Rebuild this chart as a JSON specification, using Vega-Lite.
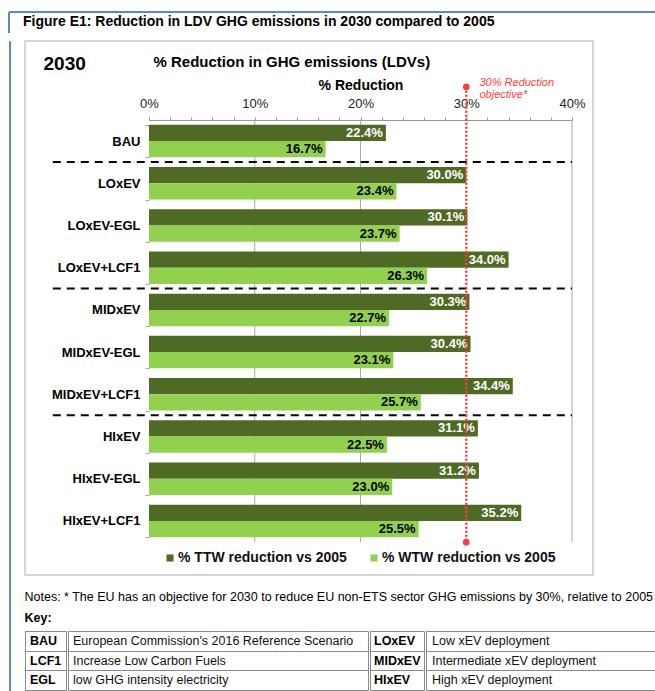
{
  "$schema": "https://vega.github.io/schema/vega-lite/v6.json",
  "padding": {"left": 8, "top": 11, "right": 0, "bottom": 0},
  "background": "white",
  "config": {
    "font": "Liberation Sans",
    "view": {"stroke": null},
    "legend": {"labelFont": "Liberation Sans"},
    "axis": {"labelFont": "Liberation Sans", "titleFont": "Liberation Sans"}
  },
  "datasets": {
    "bars": [
      {"scenario": "BAU", "series": "% TTW reduction vs 2005", "value": 0.224},
      {"scenario": "BAU", "series": "% WTW reduction vs 2005", "value": 0.167},
      {"scenario": "LOxEV", "series": "% TTW reduction vs 2005", "value": 0.300},
      {"scenario": "LOxEV", "series": "% WTW reduction vs 2005", "value": 0.234},
      {"scenario": "LOxEV-EGL", "series": "% TTW reduction vs 2005", "value": 0.301},
      {"scenario": "LOxEV-EGL", "series": "% WTW reduction vs 2005", "value": 0.237},
      {"scenario": "LOxEV+LCF1", "series": "% TTW reduction vs 2005", "value": 0.340},
      {"scenario": "LOxEV+LCF1", "series": "% WTW reduction vs 2005", "value": 0.263},
      {"scenario": "MIDxEV", "series": "% TTW reduction vs 2005", "value": 0.303},
      {"scenario": "MIDxEV", "series": "% WTW reduction vs 2005", "value": 0.227},
      {"scenario": "MIDxEV-EGL", "series": "% TTW reduction vs 2005", "value": 0.304},
      {"scenario": "MIDxEV-EGL", "series": "% WTW reduction vs 2005", "value": 0.231},
      {"scenario": "MIDxEV+LCF1", "series": "% TTW reduction vs 2005", "value": 0.344},
      {"scenario": "MIDxEV+LCF1", "series": "% WTW reduction vs 2005", "value": 0.257},
      {"scenario": "HIxEV", "series": "% TTW reduction vs 2005", "value": 0.311},
      {"scenario": "HIxEV", "series": "% WTW reduction vs 2005", "value": 0.225},
      {"scenario": "HIxEV-EGL", "series": "% TTW reduction vs 2005", "value": 0.312},
      {"scenario": "HIxEV-EGL", "series": "% WTW reduction vs 2005", "value": 0.230},
      {"scenario": "HIxEV+LCF1", "series": "% TTW reduction vs 2005", "value": 0.352},
      {"scenario": "HIxEV+LCF1", "series": "% WTW reduction vs 2005", "value": 0.255}
    ],
    "keyL": [
      {"k": "BAU", "d": "European Commission's 2016 Reference Scenario"},
      {"k": "LCF1", "d": "Increase Low Carbon Fuels"},
      {"k": "EGL", "d": "low GHG intensity electricity"}
    ],
    "keyR": [
      {"k": "LOxEV", "d": "Low xEV deployment"},
      {"k": "MIDxEV", "d": "Intermediate xEV deployment"},
      {"k": "HIxEV", "d": "High xEV deployment"}
    ]
  },
  "spacing": 0,
  "vconcat": [
    {
      "width": 647, "height": 21,
      "view": {"stroke": "#5b87c7", "strokeWidth": 2, "strokeDash": [647, 668, 21, 0]},
      "title": {
        "text": "Figure E1: Reduction in LDV GHG emissions in 2030 compared to 2005",
        "anchor": "start",
        "orient": "top",
        "offset": -17,
        "dx": 14,
        "fontSize": 14,
        "fontWeight": "bold",
        "color": "#000000"
      },
      "data": {"values": []},
      "mark": {"type": "point", "opacity": 0}
    },
    {
      "spacing": 13,
      "hconcat": [
        {
          "width": 1, "height": 700,
          "view": {"stroke": "#5b87c7", "strokeWidth": 1},
          "data": {"values": []},
          "mark": {"type": "point", "opacity": 0}
        },
        {
          "spacing": 14,
          "vconcat": [
            {
              "width": 568,
              "height": 534,
              "view": {"stroke": "#c8c8c8", "strokeWidth": 1.5},
              "resolve": {"axis": {"x": "independent", "y": "independent"}},
              "layer": [
                {
                  "data": {"values": [{"t": 0.1}, {"t": 0.2}, {"t": 0.4}]},
                  "mark": {"type": "rule", "color": "#a8a8a8", "strokeWidth": 1, "yOffset": -5, "y2Offset": 5},
                  "encoding": {
                    "x": {"field": "t", "type": "quantitative", "scale": {"domain": [0, 0.4], "range": [124, 547], "nice": false, "zero": false}, "axis": null},
                    "y": {"datum": "BAU", "type": "nominal", "bandPosition": 0, "scale": {"domain": ["BAU","LOxEV","LOxEV-EGL","LOxEV+LCF1","MIDxEV","MIDxEV-EGL","MIDxEV+LCF1","HIxEV","HIxEV-EGL","HIxEV+LCF1"], "range": [79, 501], "paddingInner": 0.23, "paddingOuter": 0.115}, "axis": null},
                    "y2": {"datum": "HIxEV+LCF1", "bandPosition": 1}
                  }
                },
                {
                  "data": {"name": "bars"},
                  "mark": {"type": "bar"},
                  "encoding": {
                    "y": {
                      "field": "scenario", "type": "nominal",
                      "scale": {"domain": ["BAU","LOxEV","LOxEV-EGL","LOxEV+LCF1","MIDxEV","MIDxEV-EGL","MIDxEV+LCF1","HIxEV","HIxEV-EGL","HIxEV+LCF1"], "range": [79, 501], "paddingInner": 0.23, "paddingOuter": 0.115},
                      "axis": {
                        "orient": "left", "offset": -124,
                        "title": "2030", "titleAngle": 0, "titleAlign": "left", "titleBaseline": "middle",
                        "titleX": -106, "titleY": 22, "titleFontSize": 19, "titleFontWeight": "bold", "titleColor": "#000000",
                        "labelFontSize": 13, "labelFontWeight": "bold", "labelColor": "#000000", "labelPadding": 5, "labelLimit": 200,
                        "tickBand": "extent", "tickSize": 4, "tickColor": "#9aa5b5", "domain": false, "grid": false
                      }
                    },
                    "yOffset": {"field": "series", "sort": ["% TTW reduction vs 2005", "% WTW reduction vs 2005"], "scale": {"paddingInner": 0}},
                    "x": {
                      "field": "value", "type": "quantitative",
                      "scale": {"domain": [0, 0.4], "range": [124, 547], "nice": false, "zero": false},
                      "axis": {
                        "orient": "top", "offset": -79,
                        "values": [0,0.02,0.04,0.06,0.08,0.1,0.12,0.14,0.16,0.18,0.2,0.22,0.24,0.26,0.28,0.3,0.32,0.34,0.36,0.38,0.4],
                        "format": ".0%",
                        "labelExpr": "round(datum.value*100) % 10 === 0 ? datum.label : ''",
                        "labelFontSize": 13, "labelColor": "#222222", "labelPadding": 7, "labelFlush": false, "labelOverlap": false,
                        "tickSize": 3, "tickColor": "#999999", "domainColor": "#999999", "grid": false,
                        "title": "% Reduction", "titleFontSize": 14, "titleFontWeight": "bold", "titleColor": "#000000", "titlePadding": 5
                      }
                    },
                    "color": {
                      "field": "series", "type": "nominal",
                      "scale": {"domain": ["% TTW reduction vs 2005", "% WTW reduction vs 2005"], "range": ["#4f6a24", "#92d050"]},
                      "legend": {
                        "orient": "none", "legendX": 154, "legendY": 539, "direction": "horizontal", "title": null,
                        "symbolType": "square", "symbolSize": 50, "symbolStrokeWidth": 0,
                        "labelFontSize": 14, "labelFontWeight": "bold", "labelColor": "#111111", "labelLimit": 400,
                        "columnPadding": 20, "labelOffset": 1
                      }
                    }
                  }
                },
                {
                  "data": {"name": "bars"},
                  "mark": {"type": "text", "align": "right", "dx": -3, "baseline": "middle", "fontSize": 13, "fontWeight": "bold"},
                  "encoding": {
                    "y": {
                      "field": "scenario", "type": "nominal",
                      "scale": {"domain": ["BAU","LOxEV","LOxEV-EGL","LOxEV+LCF1","MIDxEV","MIDxEV-EGL","MIDxEV+LCF1","HIxEV","HIxEV-EGL","HIxEV+LCF1"], "range": [79, 501], "paddingInner": 0.23, "paddingOuter": 0.115},
                      "axis": {
                        "orient": "right", "labels": false, "ticks": false, "domain": false, "grid": false,
                        "title": "% Reduction in GHG emissions (LDVs)", "titleAngle": 0, "titleAlign": "left", "titleBaseline": "middle",
                        "titleX": -440, "titleY": 20, "titleFontSize": 15, "titleFontWeight": "bold", "titleColor": "#000000"
                      }
                    },
                    "yOffset": {"field": "series", "sort": ["% TTW reduction vs 2005", "% WTW reduction vs 2005"], "scale": {"paddingInner": 0}},
                    "x": {"field": "value", "type": "quantitative", "scale": {"domain": [0, 0.4], "range": [124, 547], "nice": false, "zero": false}, "axis": null},
                    "text": {"field": "value", "type": "quantitative", "format": ".1%"},
                    "color": {"condition": {"test": "datum.series === '% TTW reduction vs 2005'", "value": "#ffffff"}, "value": "#000000"}
                  }
                },
                {
                  "data": {"values": [{"after": "BAU"}, {"after": "LOxEV+LCF1"}, {"after": "MIDxEV+LCF1"}]},
                  "mark": {"type": "rule", "color": "#000000", "strokeWidth": 2, "strokeDash": [8, 6], "yOffset": 4.6},
                  "encoding": {
                    "y": {"field": "after", "type": "nominal", "bandPosition": 1, "scale": {"domain": ["BAU","LOxEV","LOxEV-EGL","LOxEV+LCF1","MIDxEV","MIDxEV-EGL","MIDxEV+LCF1","HIxEV","HIxEV-EGL","HIxEV+LCF1"], "range": [79, 501], "paddingInner": 0.23, "paddingOuter": 0.115}, "axis": null},
                    "x": {"datum": -0.091, "type": "quantitative", "scale": {"domain": [0, 0.4], "range": [124, 547], "nice": false, "zero": false}, "axis": null},
                    "x2": {"datum": 0.4}
                  }
                },
                {
                  "data": {"values": [{}]},
                  "mark": {"type": "rule", "color": "#ff3d3d", "strokeWidth": 2.5, "strokeDash": [2, 2], "yOffset": -38, "y2Offset": 5},
                  "encoding": {
                    "x": {
                      "datum": 0.3, "type": "quantitative",
                      "scale": {"domain": [0, 0.4], "range": [124, 547], "nice": false, "zero": false},
                      "axis": {
                        "orient": "bottom", "labels": false, "ticks": false, "domain": false, "grid": false,
                        "title": ["30% Reduction", "objective*"], "titleColor": "#ff3d3d", "titleFontStyle": "italic", "titleFontWeight": "normal",
                        "titleFontSize": 11, "titleAlign": "left", "titleBaseline": "top", "titleLineHeight": 12,
                        "titleX": 454, "titleY": -499, "titleAngle": 0
                      }
                    },
                    "y": {"datum": "BAU", "type": "nominal", "bandPosition": 0, "scale": {"domain": ["BAU","LOxEV","LOxEV-EGL","LOxEV+LCF1","MIDxEV","MIDxEV-EGL","MIDxEV+LCF1","HIxEV","HIxEV-EGL","HIxEV+LCF1"], "range": [79, 501], "paddingInner": 0.23, "paddingOuter": 0.115}, "axis": null},
                    "y2": {"datum": "HIxEV+LCF1", "bandPosition": 1}
                  }
                },
                {
                  "data": {"values": [{}]},
                  "mark": {"type": "point", "filled": true, "color": "#ff3d3d", "opacity": 1, "size": 45, "yOffset": -38},
                  "encoding": {
                    "x": {"datum": 0.3, "type": "quantitative", "scale": {"domain": [0, 0.4], "range": [124, 547], "nice": false, "zero": false}, "axis": null},
                    "y": {"datum": "BAU", "type": "nominal", "bandPosition": 0, "scale": {"domain": ["BAU","LOxEV","LOxEV-EGL","LOxEV+LCF1","MIDxEV","MIDxEV-EGL","MIDxEV+LCF1","HIxEV","HIxEV-EGL","HIxEV+LCF1"], "range": [79, 501], "paddingInner": 0.23, "paddingOuter": 0.115}, "axis": null}
                  }
                },
                {
                  "data": {"values": [{}]},
                  "mark": {"type": "point", "filled": true, "color": "#ff3d3d", "opacity": 1, "size": 45, "yOffset": 5},
                  "encoding": {
                    "x": {"datum": 0.3, "type": "quantitative", "scale": {"domain": [0, 0.4], "range": [124, 547], "nice": false, "zero": false}, "axis": null},
                    "y": {"datum": "HIxEV+LCF1", "type": "nominal", "bandPosition": 1, "scale": {"domain": ["BAU","LOxEV","LOxEV-EGL","LOxEV+LCF1","MIDxEV","MIDxEV-EGL","MIDxEV+LCF1","HIxEV","HIxEV-EGL","HIxEV+LCF1"], "range": [79, 501], "paddingInner": 0.23, "paddingOuter": 0.115}, "axis": null}
                  }
                }
              ]
            },
            {
              "title": {
                "text": "Notes: * The EU has an objective for 2030 to reduce EU non-ETS sector GHG emissions by 30%, relative to 2005",
                "subtitle": "Key:",
                "anchor": "start",
                "fontSize": 12.5,
                "fontWeight": "normal",
                "color": "#000000",
                "subtitleFontSize": 12.5,
                "subtitleFontWeight": "bold",
                "subtitleColor": "#000000",
                "subtitlePadding": 9,
                "offset": 6
              },
              "spacing": 0,
              "hconcat": [
                {
                  "width": 41, "height": 59,
                  "view": {"stroke": "#8a8a8a"},
                  "data": {"name": "keyL"},
                  "mark": {"type": "text", "align": "left", "dx": 5, "baseline": "middle", "fontSize": 12.5, "fontWeight": "bold", "color": "#000000"},
                  "encoding": {
                    "y": {"field": "k", "type": "nominal", "sort": null, "scale": {"paddingInner": 0, "paddingOuter": 0}, "axis": {"title": null, "labels": false, "ticks": false, "domain": false, "grid": true, "tickBand": "extent", "gridColor": "#8a8a8a", "gridOpacity": 1}},
                    "x": {"datum": "c", "type": "nominal", "bandPosition": 0, "scale": {"type": "band", "paddingInner": 0, "paddingOuter": 0}, "axis": null},
                    "text": {"field": "k"}
                  }
                },
                {
                  "width": 300, "height": 59,
                  "view": {"stroke": "#8a8a8a"},
                  "data": {"name": "keyL"},
                  "mark": {"type": "text", "align": "left", "dx": 5, "baseline": "middle", "fontSize": 12.5, "fontWeight": "normal", "color": "#111111"},
                  "encoding": {
                    "y": {"field": "k", "type": "nominal", "sort": null, "scale": {"paddingInner": 0, "paddingOuter": 0}, "axis": {"title": null, "labels": false, "ticks": false, "domain": false, "grid": true, "tickBand": "extent", "gridColor": "#8a8a8a", "gridOpacity": 1}},
                    "x": {"datum": "c", "type": "nominal", "bandPosition": 0, "scale": {"type": "band", "paddingInner": 0, "paddingOuter": 0}, "axis": null},
                    "text": {"field": "d"}
                  }
                },
                {
                  "width": 54, "height": 59,
                  "view": {"stroke": "#8a8a8a"},
                  "data": {"name": "keyR"},
                  "mark": {"type": "text", "align": "left", "dx": 4, "baseline": "middle", "fontSize": 12.5, "fontWeight": "bold", "color": "#000000"},
                  "encoding": {
                    "y": {"field": "k", "type": "nominal", "sort": null, "scale": {"paddingInner": 0, "paddingOuter": 0}, "axis": {"title": null, "labels": false, "ticks": false, "domain": false, "grid": true, "tickBand": "extent", "gridColor": "#8a8a8a", "gridOpacity": 1}},
                    "x": {"datum": "c", "type": "nominal", "bandPosition": 0, "scale": {"type": "band", "paddingInner": 0, "paddingOuter": 0}, "axis": null},
                    "text": {"field": "k"}
                  }
                },
                {
                  "width": 237, "height": 59,
                  "view": {"stroke": "#8a8a8a"},
                  "data": {"name": "keyR"},
                  "mark": {"type": "text", "align": "left", "dx": 6, "baseline": "middle", "fontSize": 12.5, "fontWeight": "normal", "color": "#111111"},
                  "encoding": {
                    "y": {"field": "k", "type": "nominal", "sort": null, "scale": {"paddingInner": 0, "paddingOuter": 0}, "axis": {"title": null, "labels": false, "ticks": false, "domain": false, "grid": true, "tickBand": "extent", "gridColor": "#8a8a8a", "gridOpacity": 1}},
                    "x": {"datum": "c", "type": "nominal", "bandPosition": 0, "scale": {"type": "band", "paddingInner": 0, "paddingOuter": 0}, "axis": null},
                    "text": {"field": "d"}
                  }
                }
              ]
            }
          ]
        }
      ]
    }
  ]
}
